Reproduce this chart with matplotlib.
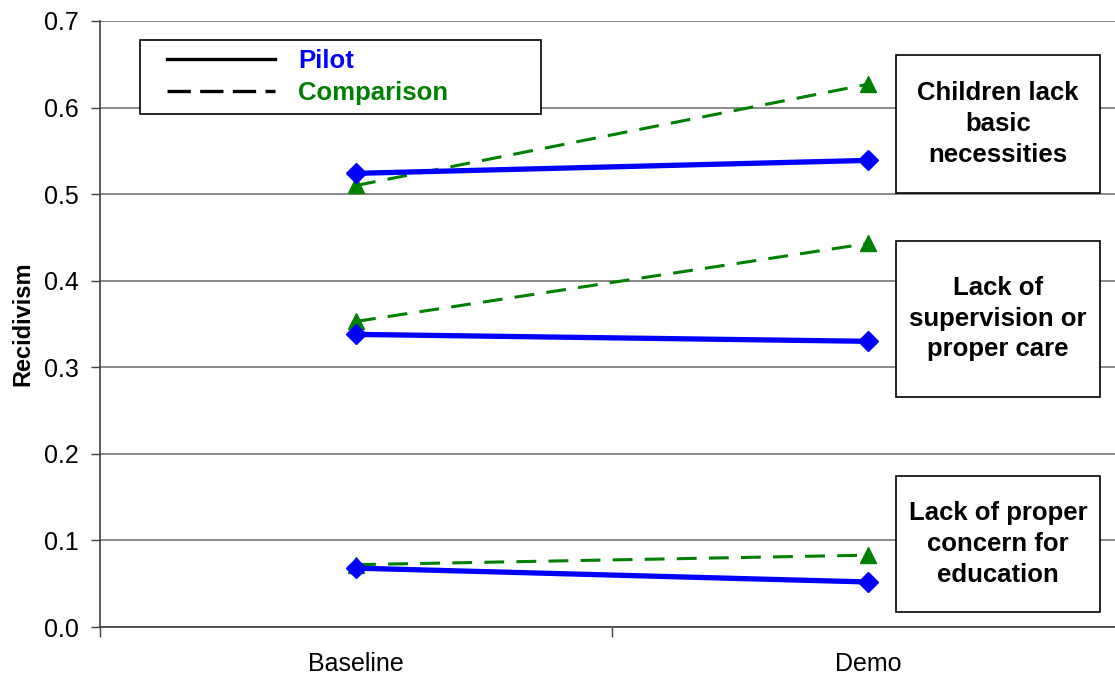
import matplotlib.pyplot as plt
from matplotlib.lines import Line2D
from matplotlib.patches import Rectangle

plt.rcParams['font.family'] = ['Liberation Sans', 'DejaVu Sans']

periods = ['Baseline', 'Demo']
groups = ['Children lack\nbasic\nnecessities',
          'Lack of\nsupervision or\nproper care',
          'Lack of proper\nconcern for\neducation']
pilot = [[0.524, 0.539], [0.338, 0.330], [0.068, 0.052]]
comparison = [[0.510, 0.627], [0.353, 0.443], [0.072, 0.083]]
yticks = [0.0, 0.1, 0.2, 0.3, 0.4, 0.5, 0.6, 0.7]

fig = plt.figure(figsize=(11.15, 6.75), dpi=100)
ax = fig.add_axes([0.0897, 0.0711, 0.9184, 0.8978])

x = list(range(len(periods)))
for p, c in zip(pilot, comparison):
    ax.plot(x, c, color='#008000', linestyle=(0, (6.5, 4)), linewidth=2.2,
            marker='^', markersize=12, zorder=3)
    ax.plot(x, p, color='#0000ff', linewidth=3.8,
            marker='D', markersize=10.5, zorder=4)

ax.set_xlim(-0.5, 1.5)
ax.set_ylim(0, 0.7)
ax.set_yticks(yticks)
ax.set_yticklabels([f'{v:.1f}' for v in yticks], fontsize=18)
ax.set_xticks(x)
ax.set_xticklabels(periods, fontsize=18)
ax.tick_params(axis='x', length=0, pad=18)
ax.set_xticks([-0.5, 0.5, 1.5], minor=True)
ax.tick_params(axis='x', which='minor', length=7, width=1, color='#404040')
ax.tick_params(axis='y', length=6.5, width=1, color='#404040', pad=9)
ax.yaxis.grid(True, color='#808080', linewidth=1.3)
ax.set_axisbelow(True)
for s in ['top', 'right']:
    ax.spines[s].set_visible(False)
for s in ['left', 'bottom']:
    ax.spines[s].set_color('#404040')
    ax.spines[s].set_linewidth(1.2)
ax.set_ylabel('Recidivism', fontsize=17, fontweight='bold', labelpad=7)

# legend frame drawn separately so the entries can sit further in
ax.add_patch(Rectangle((0.039, 0.8465), 0.392, 0.1221, transform=ax.transAxes,
                       facecolor='white', edgecolor='black', linewidth=1.2,
                       zorder=5, clip_on=False))
handles = [Line2D([], [], color='black', linewidth=2.4),
           Line2D([], [], color='black', linewidth=2.4, linestyle=(0, (7, 2.8)))]
leg = ax.legend(handles, ['Pilot', 'Comparison'], loc='upper left',
                bbox_to_anchor=(0.058, 0.966), frameon=False,
                prop={'weight': 'bold', 'size': 18.5}, labelcolor=['#0000ff', '#008000'],
                handlelength=4.2, handletextpad=0.9, borderpad=0.3,
                labelspacing=0.3, borderaxespad=0)
leg.set_zorder(6)

boxes = [(0.716, 0.944), (0.380, 0.637), (0.025, 0.249)]
for label, (y0, y1) in zip(groups, boxes):
    ax.add_patch(Rectangle((0.777, y0), 0.2, y1 - y0, transform=ax.transAxes,
                           facecolor='white', edgecolor='black', linewidth=1.2,
                           zorder=5, clip_on=False))
    ax.text(0.877, (y0 + y1) / 2, label, transform=ax.transAxes, ha='center',
            va='center', fontsize=18.5, fontweight='bold', linespacing=1.35,
            zorder=6)

fig.savefig('out.png', dpi=100)
